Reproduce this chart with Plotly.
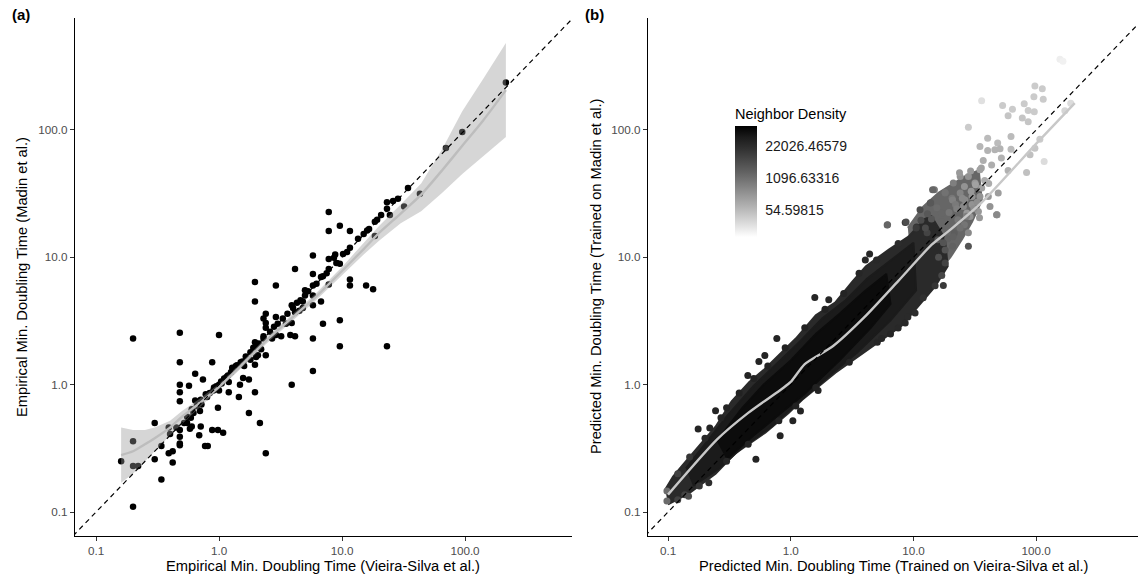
import plotly.graph_objects as go

# ---------------- Panel (a) data ----------------
a_x = [215, 95, 70, 43, 34.4, 32, 28.5, 26, 23.2, 23.2, 24.5, 20.8, 19.3, 18.5, 18.5, 16.6, 13.5, 11.6, 11, 10.2,
       8.8, 8.6, 7.8, 7.8, 9.6, 11.6, 5.8, 7.8, 9.6, 4.15, 7.8, 5.8, 6.75, 7.8, 5.8, 11.6, 11.6, 15.7, 17.9, 1.96,
       2.9, 5.0, 1.96, 5.8, 4.8, 5.8, 6.75, 4.8, 3.9, 4.15, 2.4, 2.9, 2.3, 2.4, 3.9, 2.4, 7.0, 9.6, 0.48, 1.0,
       2.3, 2.9, 3.2, 3.8, 4.15, 5.8, 0.2, 9.6, 23.2, 1.96, 2.4, 2.07, 1.8, 1.96, 1.57, 0.48, 0.88, 1.37, 1.28, 5.8,
       0.64, 0.74, 0.48, 0.57, 1.04, 1.18, 1.48, 1.57, 1.75, 3.9, 0.48, 0.91, 1.2, 1.96, 1.45, 0.78, 0.48, 0.64, 0.71, 0.98,
       0.6, 1.75, 0.3, 2.15, 0.39, 0.48, 0.6, 0.71, 0.58, 0.88, 0.98, 1.08, 0.4, 0.48, 0.69, 0.48, 0.48, 0.34, 0.77, 0.81,
       0.2, 2.4, 0.39, 0.42, 0.3, 0.42, 0.2, 0.22, 0.16, 0.34, 0.2, 0.59,
       0.45, 0.52, 0.55, 0.62, 0.66, 0.72, 0.8, 0.84, 0.9, 0.95, 1.0, 1.05, 1.1, 1.15, 1.25, 1.3, 1.4, 1.5, 1.55, 1.65,
       1.8, 1.9, 2.0, 2.1, 2.3, 2.6, 2.8, 3.0, 3.3, 3.6, 4.0, 4.3, 4.6, 5.0, 5.3, 6.2, 7.0, 7.5, 9.0, 15, 16,
       1.2, 1.6, 2.2, 2.7, 3.5, 4.5, 0.7, 0.55, 1.0, 2.0]
a_y = [235, 96, 72, 31.5, 35, 25, 28.8, 27.7, 27, 24, 21.5, 21.5, 19.7, 19, 14.7, 16.7, 14, 11.9, 11, 10.6,
       10.5, 9.9, 22.7, 16.1, 17.7, 16.1, 10.3, 9.7, 8.9, 8.1, 8.1, 7.4, 7.0, 6.1, 6.0, 6.7, 6.0, 6.0, 5.6, 6.4,
       6.0, 5.5, 4.5, 5.0, 4.5, 4.2, 4.5, 4.0, 4.2, 3.7, 3.6, 3.4, 3.3, 3.05, 3.05, 2.8, 3.0, 3.2, 2.55, 2.45,
       2.4, 2.45, 2.4, 2.45, 2.4, 2.3, 2.3, 2.0, 2.0, 2.15, 1.7, 1.7, 1.57, 1.43, 1.5, 1.5, 1.5, 1.4, 1.36, 1.28,
       1.22, 1.1, 1.0, 0.98, 1.06, 1.18, 1.0, 1.13, 1.1, 1.0, 0.87, 0.95, 0.87, 0.87, 0.8, 0.84, 0.74, 0.75, 0.76, 0.66,
       0.64, 0.6, 0.5, 0.5, 0.46, 0.44, 0.47, 0.47, 0.45, 0.44, 0.44, 0.42, 0.41, 0.39, 0.4, 0.345, 0.335, 0.33, 0.33, 0.33,
       0.36, 0.29, 0.29, 0.3, 0.26, 0.245, 0.23, 0.23, 0.25, 0.18, 0.11, 0.55,
       0.46, 0.5, 0.56, 0.6, 0.68, 0.7, 0.8, 0.86, 0.9, 0.97, 1.0, 1.02, 1.12, 1.15, 1.25, 1.32, 1.42, 1.5, 1.52, 1.66,
       1.8, 1.95, 2.0, 2.1, 2.3, 2.6, 2.85, 3.0, 3.3, 3.6, 4.0, 4.4, 4.6, 5.0, 5.4, 6.2, 7.1, 7.5, 9.0, 15.2, 16.2,
       1.05, 1.4, 1.9, 2.3, 3.0, 3.8, 0.62, 0.5, 0.9, 1.65]

a_smooth_x = [0.16, 0.2, 0.25, 0.3, 0.4, 0.5, 0.7, 1.0, 1.5, 2.4, 4, 6, 10, 15, 20, 30, 44, 65, 95, 140, 215]
a_smooth_y = [0.28, 0.3, 0.34, 0.38, 0.46, 0.56, 0.72, 0.96, 1.4, 2.2, 3.4, 4.8, 7.8, 11.6, 15.5, 22, 31, 48, 75, 118, 205]
a_smooth_lo = [0.17, 0.2, 0.25, 0.3, 0.4, 0.49, 0.67, 0.92, 1.33, 2.08, 3.2, 4.5, 7.2, 10.5, 13.5, 18.5, 23, 32, 45, 62, 88]
a_smooth_hi = [0.46, 0.44, 0.44, 0.46, 0.52, 0.62, 0.78, 1.01, 1.48, 2.33, 3.6, 5.1, 8.4, 12.8, 17.6, 26, 38, 70, 140, 250, 480]

# ---------------- Panel (b) data ----------------
# low-density tail (drawn first, underneath)
b_fade_upper_x = [9, 12, 16, 21, 27, 34]
b_fade_upper_y = [17, 25, 32, 38, 44, 48]
b_fade_lower_x = [10, 15, 20, 25, 30, 36]
b_fade_lower_y = [5, 7.2, 10, 14, 19, 28]
# outer envelope of the dense point cloud
b_cloud_upper_x = [0.095, 0.11, 0.13, 0.18, 0.245, 0.33, 0.46, 0.6, 0.75, 1.1, 1.6, 2.3, 3.2, 4.1, 6.3, 9.1, 12.4, 14]
b_cloud_upper_y = [0.15, 0.19, 0.23, 0.33, 0.47, 0.74, 1.05, 1.3, 1.6, 2.3, 3.5, 4.4, 6.5, 8.5, 11.5, 14.5, 20, 21]
b_cloud_lower_x = [0.1, 0.148, 0.244, 0.355, 0.62, 0.96, 1.24, 2.31, 4.3, 8.0, 10.3, 15, 19, 18]
b_cloud_lower_y = [0.115, 0.14, 0.2, 0.29, 0.42, 0.6, 0.76, 1.24, 1.9, 2.9, 3.9, 5.9, 8.5, 14]
# middle density band
b_mid_upper_x = [0.14, 0.2, 0.3, 0.5, 0.8, 1.2, 1.8, 2.8, 4.2, 6.5, 10]
b_mid_upper_y = [0.22, 0.34, 0.56, 0.98, 1.5, 2.2, 3.3, 4.6, 6.8, 9.5, 13]
b_mid_lower_x = [0.16, 0.26, 0.4, 0.7, 1.1, 2.0, 3.5, 6.5, 10.5]
b_mid_lower_y = [0.16, 0.22, 0.32, 0.47, 0.7, 1.15, 1.8, 3.2, 5.5]
# densest core
b_core_upper_x = [0.25, 0.4, 0.6, 1.0, 1.6, 2.5, 4.0, 6.0]
b_core_upper_y = [0.36, 0.65, 1.0, 1.55, 2.5, 3.6, 5.4, 7.4]
b_core_lower_x = [0.3, 0.5, 0.8, 1.3, 2.5, 4.5, 6.5]
b_core_lower_y = [0.26, 0.4, 0.58, 0.85, 1.55, 2.8, 4.3]

b_pts_x = [156, 165, 97.5, 112, 95.7, 114, 35.9, 53.2, 64, 79.8, 86, 96.4, 59, 77, 86, 191, 171, 28, 40.2, 48.5,
           62.3, 34.8, 40.2, 46, 50.7, 62.3, 52, 37, 43.3, 107, 97.5, 89, 116, 83.4, 59, 34.8, 24, 49, 40.7, 47.6,
           42, 34.8, 31.7, 28, 21.1, 14.8, 20.6, 24, 26.3, 33.8, 28.9, 11.3, 13.7, 18.1, 8.56,
           23.7, 29.2, 35.7, 14.3, 18.1, 13.8, 16.9, 20.8, 23, 27.2, 34.5, 48, 28, 20.8, 10.6, 12.9, 15.8, 18.1, 20.8, 6.1,
           0.176, 0.219, 0.244, 0.447, 0.55, 0.615, 0.77, 1.57, 2.04, 4.39, 4.05, 6.15, 8.7, 0.52, 0.82, 1.04, 1.2, 1.67,
           0.215, 0.137, 8.56, 10.3, 15, 18.1, 28, 47.6, 21.5, 0.147, 17.5, 7.5, 5.07, 0.098, 0.098,
           0.12, 0.15, 0.2, 0.27, 0.3, 0.38, 0.5, 0.65, 0.9, 1.3, 1.9, 2.7, 3.6, 5.0, 7.5, 10.5,
           0.12, 0.18, 0.3, 0.45, 0.8, 1.1, 1.6, 3.0, 5.5, 6.5, 9.0, 12, 17,
           22, 25, 19, 16, 30, 26, 12.5, 14,
           11.5, 13, 15.5, 17, 19.5, 22.5, 25.5, 30, 32, 38, 17.5, 21, 24, 27, 31, 36, 41, 26, 29.5, 33]
b_pts_y = [358, 346, 221, 210, 182, 174, 169, 155, 145, 160, 142, 139, 129, 124, 116, 162, 141, 105, 86, 78.7,
           88.7, 74, 69, 69.7, 71, 70.5, 60, 57.4, 53, 84.5, 71.8, 63.7, 56.4, 46.2, 48, 48.6, 43, 31.9, 30, 21.6,
           25, 30, 38.2, 43, 38.2, 33.8, 29.1, 32, 28.2, 22.9, 20.9, 23.6, 26.6, 31.9, 18.7,
           46, 47.5, 50.3, 33.8, 32.3, 26.8, 22.3, 28.2, 19.7, 22.3, 20.4, 21.6, 15.6, 16.4, 17.3, 15.6, 13.7, 11.4, 12.2, 17.9,
           0.449, 0.457, 0.625, 1.18, 1.52, 1.69, 2.3, 4.84, 4.64, 10.6, 9.5, 18, 18.9, 0.26, 0.398, 0.52, 0.62, 0.9,
           0.17, 0.137, 3.05, 3.65, 5.97, 9.0, 12.2, 21.6, 15.5, 0.133, 6.0, 2.78, 2.15, 0.146, 0.122,
           0.2, 0.27, 0.38, 0.55, 0.66, 0.86, 1.12, 1.4, 1.95, 2.8, 3.9, 5.2, 7.5, 9.5, 12.8, 17,
           0.125, 0.16, 0.25, 0.34, 0.52, 0.68, 0.95, 1.5, 2.3, 2.5, 3.4, 4.8, 7.2,
           26, 29, 14, 10, 30, 18, 17, 20,
           19.5, 22, 24.5, 19, 22.5, 24, 25, 26, 37, 40, 13, 14.5, 17, 21, 24, 35, 38, 36, 33, 27]
b_pts_density = [2.1, 2.0, 3.4, 3.4, 3.4, 3.4, 2.6, 3.4, 3.4, 3.4, 3.4, 3.4, 3.6, 3.6, 3.6, 2.75, 3.0, 3.4, 4.0, 4.0,
                 4.0, 4.2, 4.3, 4.3, 4.3, 4.0, 4.3, 4.5, 4.5, 3.4, 3.6, 3.8, 2.75, 3.8, 4.4, 5.0, 5.6, 5.2, 5.4, 4.8,
                 5.6, 5.6, 5.4, 5.6, 6.4, 6.7, 6.7, 6.2, 6.0, 5.4, 5.6, 8.6, 8.0, 7.0, 9.5,
                 5.35, 5.35, 5.0, 7.4, 6.9, 8.0, 7.4, 6.3, 6.7, 5.35, 5.35, 4.6, 6.0, 7.4, 9.7, 8.9, 8.2, 8.2, 7.6, 7.4,
                 10.4, 10.4, 10.4, 10.4, 10.4, 10.4, 10.4, 10.3, 10.3, 10.2, 10.2, 7.4, 8.5, 10.4, 10.4, 10.4, 10.4, 10.4,
                 10.0, 9.0, 10.2, 10.0, 9.6, 9.0, 8.2, 6.0, 7.8, 8.5, 9.4, 10.2, 10.3, 7.2, 7.2,
                 9.0, 9.6, 10.2, 10.4, 10.4, 10.5, 10.5, 10.5, 10.5, 10.5, 10.5, 10.4, 10.3, 10.2, 10.0, 9.3,
                 9.0, 9.6, 10.3, 10.4, 10.5, 10.5, 10.5, 10.4, 10.3, 10.3, 10.1, 9.8, 8.8,
                 6.6, 6.0, 7.6, 8.4, 5.6, 6.8, 8.6, 8.0,
                 8.6, 8.0, 7.2, 7.4, 6.8, 6.4, 6.0, 5.6, 5.0, 4.6, 8.2, 7.6, 7.0, 6.4, 5.8, 5.0, 4.6, 5.6, 5.4, 5.8]

b_smooth_x = [0.1, 0.25, 0.45, 0.85, 1.0, 1.3, 2.2, 4, 7.5, 14, 20, 36, 100, 206]
b_smooth_y = [0.137, 0.37, 0.6, 0.93, 1.05, 1.45, 2.0, 3.4, 6.5, 12.5, 16.5, 27, 78, 162]

identity_line = [0.01, 1000]

tick_vals = [0.1, 1, 10, 100]
tick_text = ["0.1", "1.0", "10.0", "100.0"]

cbar_vals = [4, 7, 10]
cbar_text = ["54.59815", "1096.63316", "22026.46579"]
density_min, density_max = 1.5, 11.9

FONT = "Liberation Sans, Arial, sans-serif"

gray_scale = [[0.0, "#ffffff"], [0.1, "#e2e2e2"], [0.2, "#c6c6c6"], [0.3, "#ababab"], [0.4, "#919191"],
              [0.5, "#777777"], [0.6, "#5e5e5e"], [0.7, "#474747"], [0.8, "#303030"], [0.9, "#1b1b1b"],
              [1.0, "#000000"]]

fig = go.Figure()


def polygon(ux, uy, lx, ly):
    return ux + lx, uy + ly


# ---- Panel (a) ----
fig.add_trace(go.Scatter(x=a_x, y=a_y, mode="markers", xaxis="x", yaxis="y",
                         marker=dict(color="black", size=6.5, line=dict(width=0)), hoverinfo="skip"))
px_, py_ = polygon(a_smooth_x, a_smooth_hi, a_smooth_x[::-1], a_smooth_lo[::-1])
fig.add_trace(go.Scatter(x=px_, y=py_, mode="lines", fill="toself", fillcolor="rgba(153,153,153,0.4)",
                         line=dict(width=0), xaxis="x", yaxis="y", hoverinfo="skip"))
fig.add_trace(go.Scatter(x=a_smooth_x, y=a_smooth_y, mode="lines",
                         line=dict(color="#bdbdbd", width=2.4, shape="spline", smoothing=0.6),
                         xaxis="x", yaxis="y", hoverinfo="skip"))
fig.add_trace(go.Scatter(x=identity_line, y=identity_line, mode="lines",
                         line=dict(color="black", width=1.2, dash="5px,4px"), xaxis="x", yaxis="y", hoverinfo="skip"))

# ---- Panel (b) ----
for ux, uy, lx, ly, col in [
    (b_fade_upper_x, b_fade_upper_y, b_fade_lower_x, b_fade_lower_y, "#666666"),
    (b_cloud_upper_x, b_cloud_upper_y, b_cloud_lower_x, b_cloud_lower_y, "#2a2a2a"),
    (b_mid_upper_x, b_mid_upper_y, b_mid_lower_x, b_mid_lower_y, "#1b1b1b"),
    (b_core_upper_x, b_core_upper_y, b_core_lower_x, b_core_lower_y, "#0c0c0c"),
]:
    px_, py_ = polygon(ux, uy, lx[::-1], ly[::-1])
    fig.add_trace(go.Scatter(x=px_, y=py_, mode="lines", fill="toself", fillcolor=col,
                             line=dict(width=2, color=col), xaxis="x2", yaxis="y2", hoverinfo="skip"))
fig.add_trace(go.Scatter(x=b_pts_x, y=b_pts_y, mode="markers", xaxis="x2", yaxis="y2",
                         marker=dict(color=b_pts_density, coloraxis="coloraxis", size=7, line=dict(width=0)),
                         hoverinfo="skip"))
fig.add_trace(go.Scatter(x=b_smooth_x, y=b_smooth_y, mode="lines",
                         line=dict(color="#c8c8c8", width=2.4, shape="spline", smoothing=0.6),
                         xaxis="x2", yaxis="y2", hoverinfo="skip"))
fig.add_trace(go.Scatter(x=identity_line, y=identity_line, mode="lines",
                         line=dict(color="black", width=1.2, dash="5px,4px"), xaxis="x2", yaxis="y2", hoverinfo="skip"))

axis_common = dict(type="log", showgrid=False, zeroline=False, showline=True, linecolor="black", linewidth=1.1,
                   ticks="outside", ticklen=4, tickcolor="#333333", tickwidth=1.1,
                   tickvals=tick_vals, ticktext=tick_text,
                   tickfont=dict(family=FONT, size=11.7, color="#4d4d4d"), mirror=False)

fig.update_layout(
    width=1138, height=580, margin=dict(l=0, r=0, t=0, b=0),
    paper_bgcolor="white", plot_bgcolor="white", showlegend=False,
    font=dict(family=FONT),
    xaxis=dict(domain=[75 / 1138, 572 / 1138], range=[-1.171, 2.870], anchor="y", **axis_common),
    yaxis=dict(domain=[1 - 536 / 580, 1 - 18 / 580], range=[-1.188, 2.878], anchor="x", **axis_common),
    xaxis2=dict(domain=[648 / 1138, 1.0], range=[-1.163, 2.829], anchor="y2", **axis_common),
    yaxis2=dict(domain=[1 - 536 / 580, 1 - 18 / 580], range=[-1.188, 2.878], anchor="x2", **axis_common),
    coloraxis=dict(
        colorscale=gray_scale, cmin=density_min, cmax=density_max,
        colorbar=dict(
            title=dict(text="Neighbor Density", side="top", font=dict(family=FONT, size=14.5, color="black")),
            tickvals=cbar_vals, ticktext=cbar_text,
            tickfont=dict(family=FONT, size=14, color="#1a1a1a"),
            ticks="outside", ticklen=6, tickcolor="rgba(255,255,255,0)", tickwidth=1,
            x=735 / 1138, xanchor="left", xpad=0,
            y=1 - 105 / 580, yanchor="top", ypad=0,
            len=132, lenmode="pixels", thickness=22, thicknessmode="pixels",
            outlinewidth=0, bgcolor="rgba(0,0,0,0)",
        ),
    ),
    annotations=[
        dict(text="<b>(a)</b>", x=10 / 1138, y=1 - 14 / 580, xref="paper", yref="paper", xanchor="left",
             yanchor="middle", showarrow=False, font=dict(family=FONT, size=15, color="black")),
        dict(text="<b>(b)</b>", x=583 / 1138, y=1 - 14 / 580, xref="paper", yref="paper", xanchor="left",
             yanchor="middle", showarrow=False, font=dict(family=FONT, size=15, color="black")),
        dict(text="Empirical Min. Doubling Time (Vieira-Silva et al.)", x=323.5 / 1138, y=1 - 566 / 580,
             xref="paper", yref="paper", xanchor="center", yanchor="middle", showarrow=False,
             font=dict(family=FONT, size=14.7, color="black")),
        dict(text="Empirical Min. Doubling Time (Madin et al.)", x=22 / 1138, y=1 - 277 / 580,
             xref="paper", yref="paper", xanchor="center", yanchor="middle", showarrow=False, textangle=-90,
             font=dict(family=FONT, size=14.7, color="black")),
        dict(text="Predicted Min. Doubling Time (Trained on Vieira-Silva et al.)", x=893 / 1138, y=1 - 566 / 580,
             xref="paper", yref="paper", xanchor="center", yanchor="middle", showarrow=False,
             font=dict(family=FONT, size=14.7, color="black")),
        dict(text="Predicted Min. Doubling Time (Trained on Madin et al.)", x=596 / 1138, y=1 - 277 / 580,
             xref="paper", yref="paper", xanchor="center", yanchor="middle", showarrow=False, textangle=-90,
             font=dict(family=FONT, size=14.7, color="black")),
    ],
)

fig.write_html("out.html")
